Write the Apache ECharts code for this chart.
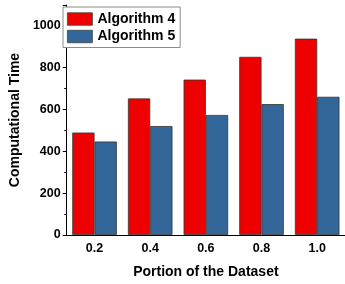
<!DOCTYPE html>
<html>
<head>
<meta charset="utf-8">
<script src="https://cdn.jsdelivr.net/npm/echarts@6/dist/echarts.min.js"></script>
<style>
html, body { margin: 0; padding: 0; background: #fff; }
#chart { width: 345px; height: 284px; }
</style>
</head>
<body>
<div id="chart"></div>
<script>
// 数据
var categories = ['0.2', '0.4', '0.6', '0.8', '1.0'];
var algo4 = [490, 653, 743, 852, 939];
var algo5 = [447, 521, 574, 626, 661];
var seriesNames = ['Algorithm 4', 'Algorithm 5'];

var font = '"Liberation Sans", Arial, sans-serif';

/**
 * 生成图表
 */
function createChart() {
	var myChart = echarts.init(document.getElementById('chart'));
	var option = {
		animation: false,
		grid: { left: 61.5, right: -2.5, top: 5, bottom: 48.7 },
		legend: {
			orient: 'vertical',
			left: 63,
			top: 7,
			data: seriesNames,
			itemWidth: 25,
			itemHeight: 12.5,
			itemGap: 3.5,
			padding: [5, 5, 4, 4],
			borderColor: '#8c8c8c',
			borderWidth: 1,
			backgroundColor: '#fff',
			icon: 'rect',
			itemStyle: { borderColor: '#444', borderWidth: 0.8 },
			textStyle: { fontFamily: font, fontWeight: 'bold', fontSize: 14, color: '#000', lineHeight: 14 }
		},
		xAxis: [{
			type: 'category',
			data: categories,
			name: 'Portion of the Dataset',
			nameLocation: 'middle',
			nameGap: 30,
			nameTextStyle: { fontFamily: font, fontWeight: 'bold', fontSize: 14, color: '#000' },
			axisLine: { lineStyle: { color: '#000', width: 1 } },
			axisTick: { alignWithLabel: true, length: 4, lineStyle: { color: '#000' } },
			axisLabel: { fontFamily: font, fontWeight: 'bold', fontSize: 12.5, color: '#000', margin: 7 }
		}, {
			// 类别边界处的小刻度
			type: 'category',
			data: categories,
			position: 'bottom',
			axisLine: { show: false },
			axisTick: { length: 2.5, lineStyle: { color: '#000' } },
			axisLabel: { show: false }
		}],
		yAxis: {
			type: 'value',
			min: 0,
			max: 1100,
			interval: 200,
			name: 'Computational Time',
			nameLocation: 'middle',
			nameGap: 40,
			nameTextStyle: { fontFamily: font, fontWeight: 'bold', fontSize: 14, color: '#000' },
			axisLine: { show: true, lineStyle: { color: '#000', width: 1 } },
			axisTick: { show: true, length: 4, lineStyle: { color: '#000' } },
			minorTick: { show: true, splitNumber: 2, length: 2.5, lineStyle: { color: '#000' } },
			splitLine: { show: false },
			axisLabel: {
				fontFamily: font, fontWeight: 'bold', fontSize: 12.5, color: '#000', margin: 6,
				showMaxLabel: false,
				formatter: function (v) { return String(v); }
			}
		},
		series: [{
			name: seriesNames[0],
			type: 'bar',
			data: algo4,
			barGap: '0%',
			barCategoryGap: '20%',
			itemStyle: { color: '#ee0000', borderColor: '#333', borderWidth: 0.8 }
		}, {
			name: seriesNames[1],
			type: 'bar',
			data: algo5,
			itemStyle: { color: '#336699', borderColor: '#333', borderWidth: 0.8 }
		}]
	};
	myChart.setOption(option);
}

createChart();
</script>
</body>
</html>
